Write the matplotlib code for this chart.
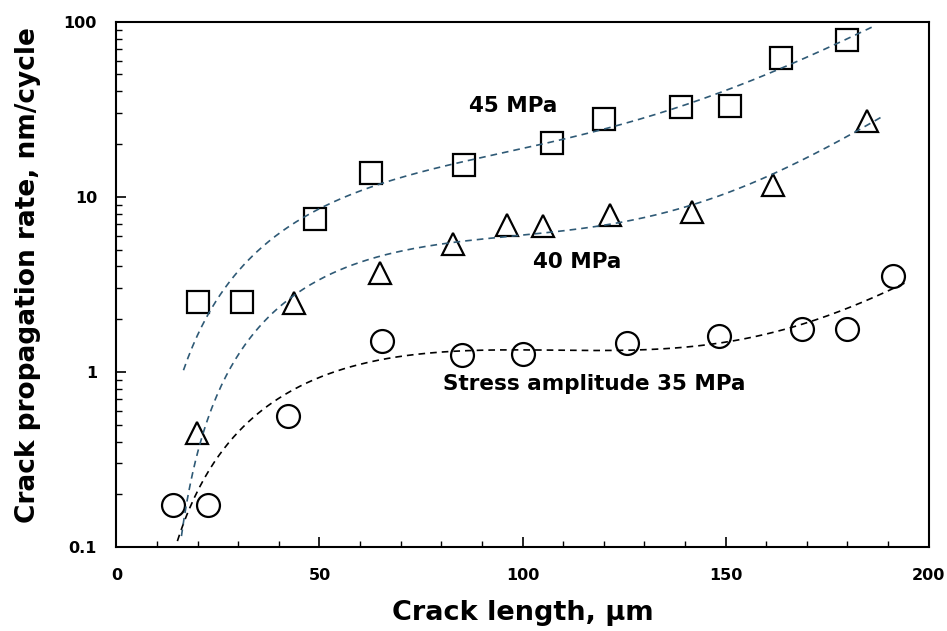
import numpy as np
import matplotlib
matplotlib.use('Agg')
import matplotlib.pyplot as plt
from matplotlib.ticker import FixedLocator, LogLocator, NullFormatter

# Crack length (um) and propagation rate (nm/cycle)
x_35 = [14.0, 22.5, 42.2, 65.5, 85.0, 100.0, 125.7, 148.5, 168.8, 180.0, 191.2]
y_35 = [0.174, 0.174, 0.56, 1.51, 1.25, 1.26, 1.46, 1.60, 1.76, 1.76, 3.53]

x_40 = [19.8, 43.6, 64.9, 83.0, 96.3, 105.0, 121.6, 141.7, 161.8, 184.9]
y_40 = [0.446, 2.47, 3.69, 5.37, 6.9, 6.81, 7.87, 8.22, 11.7, 27.2]

x_45 = [20.1, 30.8, 49.0, 62.7, 85.6, 107.3, 120.1, 139.0, 151.1, 163.6, 179.8]
y_45 = [2.5, 2.5, 7.5, 13.6, 15.1, 20.4, 27.7, 32.6, 33.0, 61.8, 78.6]

y_ticks = [0.1, 1, 10, 100]
y_tick_labels = ['0.1', '1', '10', '100']
x_ticks = [0, 50, 100, 150, 200]

plt.rcParams['font.family'] = 'DejaVu Sans'
plt.rcParams['font.weight'] = 'bold'

fig = plt.figure(figsize=(9.47, 6.31), dpi=100)
ax = fig.add_axes([0.123, 0.1331, 0.8575, 0.8325])

mk = dict(linestyle='none', markersize=16.5, markerfacecolor='none',
          markeredgecolor='black', markeredgewidth=1.6)
ax.plot(x_35, y_35, marker='o', **mk)
ax.plot(x_40, y_40, marker='^', **mk)
ax.plot(x_45, y_45, marker='s', **mk)

# trendlines: cubic fit of sqrt(rate)
trend_col = '#2f5a76'
for xs, ys, x0, x1, c in [(x_35, y_35, 15, 195, 'black'),
                          (x_40, y_40, 16, 189, trend_col),
                          (x_45, y_45, 16.5, 186, trend_col)]:
    p = np.polyfit(xs, np.sqrt(ys), 3)
    xx = np.linspace(x0, x1, 300)
    yy = np.polyval(p, xx) ** 2
    ax.plot(xx, yy, linestyle=(0, (4, 3)), color=c, linewidth=1.2)

ax.set_yscale('log')
ax.set_xlim(0, 200)
ax.set_ylim(0.1, 100)

ax.yaxis.set_major_locator(FixedLocator(y_ticks))
ax.set_yticklabels(y_tick_labels)
ax.yaxis.set_minor_locator(LogLocator(base=10, subs=np.arange(2, 10)))
ax.yaxis.set_minor_formatter(NullFormatter())
ax.set_xticks(x_ticks)
ax.set_xticks(np.arange(0, 201, 10), minor=True)

ax.tick_params(which='major', direction='in', length=7, width=1.2, labelsize=11.5)
ax.tick_params(axis='y', which='major', pad=14)
ax.tick_params(axis='x', which='major', pad=15)
ax.tick_params(which='minor', direction='in', length=4.5, width=1.0)
for s in ax.spines.values():
    s.set_linewidth(1.5)

ax.set_xlabel('Crack length, µm', fontsize=19.5, fontweight='bold', labelpad=12)
ax.set_ylabel('Crack propagation rate, nm/cycle', fontsize=19, fontweight='bold')
ax.yaxis.set_label_coords(-0.093, 0.517)

ax.text(97.7, 33, '45 MPa', fontsize=15.5, fontweight='bold', ha='center', va='center')
ax.text(113.4, 4.25, '40 MPa', fontsize=15.5, fontweight='bold', ha='center', va='center')
ax.text(117.6, 0.853, 'Stress amplitude 35 MPa', fontsize=15.5, fontweight='bold', ha='center', va='center')

fig.savefig('out.png', dpi=100)
